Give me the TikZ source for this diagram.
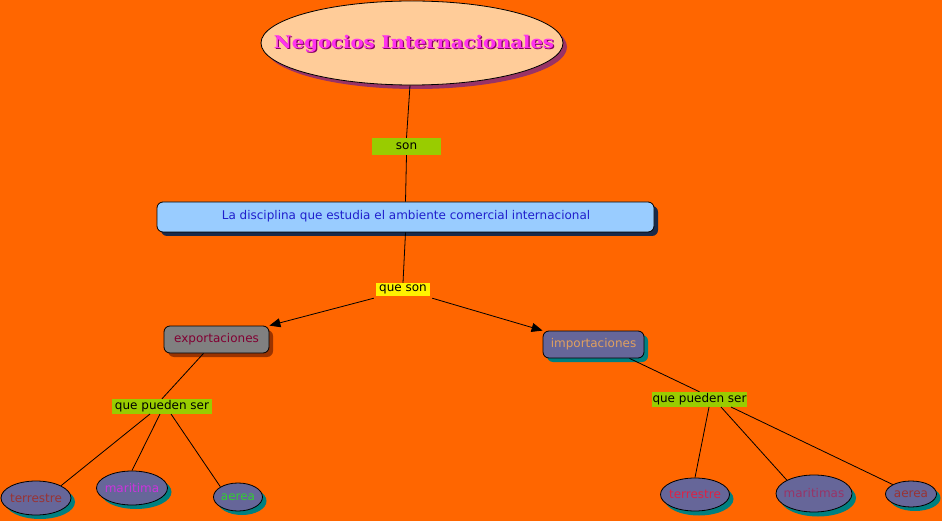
\documentclass[tikz,border=0pt]{standalone}
\usepackage{fontspec}
\setmainfont{DejaVu Sans}
\newfontfamily\titlefont{DejaVu Serif}
\usetikzlibrary{arrows.meta,shapes.geometric}
\definecolor{bgorange}{HTML}{FF6600}
\definecolor{peach}{HTML}{FFCC99}
\definecolor{titleshadow}{HTML}{993366}
\definecolor{lblgreen}{HTML}{99CC00}
\definecolor{lightblue}{HTML}{99CCFF}
\definecolor{navy}{HTML}{1A2A4A}
\definecolor{textblue}{HTML}{1F1FCC}
\definecolor{slate}{HTML}{666699}
\definecolor{teal2}{HTML}{008080}
\definecolor{brownshadow}{HTML}{993300}
\definecolor{expred}{HTML}{800033}
\definecolor{imptan}{HTML}{E0A060}
\definecolor{titlemag}{HTML}{FF33EE}
\definecolor{titledark}{HTML}{880066}
\definecolor{tbrown}{HTML}{993333}
\definecolor{tmag}{HTML}{CC33DD}
\definecolor{tgreen}{HTML}{33CC33}
\definecolor{tred}{HTML}{DD2244}
\definecolor{tpurple}{HTML}{993366}
\tikzset{
  x=1pt,y=-1pt,
  every node/.style={font=\fontsize{12}{14}\selectfont},
  titlestyle/.style={font=\titlefont\bfseries\fontsize{17.5}{20}\selectfont,xscale=1.12},
  lbl/.style={fill=#1,inner sep=0pt,text=black,minimum height=15pt},
  conn/.style={draw=black,line width=0.8pt},
  arr/.style={conn,-{Triangle[length=11pt,width=9pt]}},
  oval/.style={ellipse,draw=black,line width=0.8pt,fill=slate,inner sep=0pt},
  rbox/.style={rectangle,rounded corners=6pt,draw=black,line width=0.8pt,inner sep=0pt},
}
\begin{document}
\begin{tikzpicture}
\fill[bgorange] (0,0) rectangle (942,521);
\useasboundingbox (0,0) rectangle (942,521);
% title ellipse
\fill[titleshadow] (416,47) ellipse [x radius=151, y radius=42];
\node[ellipse,draw=black,line width=0.8pt,fill=peach,minimum width=302pt,minimum height=84pt,inner sep=0pt] (title) at (412,43) {};
\node[text=titledark,titlestyle] at (415.2,45) {Negocios Internacionales};
\node[text=titlemag,titlestyle] (titletext) at (414,43.5) {Negocios Internacionales};
% son
\node[lbl=lblgreen,minimum width=69pt,minimum height=17pt] (son) at (406.5,146.5) {son};
% main box
\fill[navy,rounded corners=6pt] (161,206) rectangle (658,236);
\node[rbox,fill=lightblue,minimum width=497pt,minimum height=30pt,text=textblue] (main) at (405.5,217) {};
\node[text=textblue] (maintext) at (406,216) {La disciplina que estudia el ambiente comercial internacional};
% que son
\node[lbl=yellow,minimum width=54pt,minimum height=13pt] (queson) at (403,289.5) {que son};
% exportaciones
\fill[brownshadow,rounded corners=6pt] (168,330) rectangle (273,357);
\node[rbox,fill=gray,minimum width=105pt,minimum height=27pt,text=expred] (exp) at (216.5,339.5) {exportaciones};
% importaciones
\fill[teal2,rounded corners=6pt] (547,335) rectangle (648,362);
\node[rbox,fill=slate,minimum width=101pt,minimum height=27pt,text=imptan] (imp) at (593.5,344.5) {importaciones};
% que pueden ser labels
\node[lbl=lblgreen,minimum width=100pt] (qpsL) at (162,406.5) {que pueden ser};
\node[lbl=lblgreen,minimum width=95pt] (qpsR) at (699.5,399.5) {que pueden ser};
% left ovals
\fill[teal2] (40,502) ellipse [x radius=35, y radius=17];
\node[oval,minimum width=70pt,minimum height=34pt,label={[text=tbrown]center:terrestre}] (terL) at (36,498) {};
\fill[teal2] (136,492) ellipse [x radius=35.5, y radius=17];
\node[oval,minimum width=71pt,minimum height=34pt,label={[text=tmag]center:maritima}] (marL) at (132,488) {};
\fill[teal2] (242,501) ellipse [x radius=24.5, y radius=14];
\node[oval,minimum width=49pt,minimum height=28pt,label={[text=tgreen]center:aerea}] (aerL) at (238,497) {};
% right ovals
\fill[teal2] (699,499) ellipse [x radius=34.5, y radius=16.5];
\node[oval,minimum width=69pt,minimum height=33pt,label={[text=tred]center:terrestre}] (terR) at (695,494.5) {};
\fill[teal2] (818,498) ellipse [x radius=38, y radius=18.5];
\node[oval,minimum width=76pt,minimum height=37pt,label={[text=tpurple]center:maritimas}] (marR) at (814,493.5) {};
\fill[teal2] (915,498) ellipse [x radius=25.5, y radius=13];
\node[oval,minimum width=51pt,minimum height=26pt,label={[text=tbrown]center:aerea}] (aerR) at (911,494) {};
% connectors
\draw[conn] (title.south) ++(-2,0) coordinate (t1) -- (son.north);
\draw[conn] (son.south) -- (main.north);
\draw[conn] (main.south) -- (queson.north);
\draw[arr] (queson.south west) ++(-2,2) coordinate (q1) -- (exp.north east);
\draw[arr] (queson.south east) ++(2,2) coordinate (q2) -- (imp.north west);
\draw[conn] (exp.south) ++(-13,0) coordinate (e1) -- (qpsL.north);
\draw[conn] (imp.south) ++(36,0) coordinate (i1) -- (qpsR.north);
\coordinate (l1) at (150,414);
\coordinate (l2) at (160,414);
\coordinate (l3) at (171,414);
\draw[conn] (l1) -- (terL.north east);
\draw[conn] (l2) -- (marL.north);
\draw[conn] (l3) -- (aerL.north west);
\coordinate (r1) at (709,407);
\coordinate (r2) at (721,407);
\coordinate (r3) at (731,407);
\draw[conn] (r1) -- (terR.north);
\draw[conn] (r2) -- (marR.north west);
\draw[conn] (r3) -- (aerR.north west);
\end{tikzpicture}
\end{document}
